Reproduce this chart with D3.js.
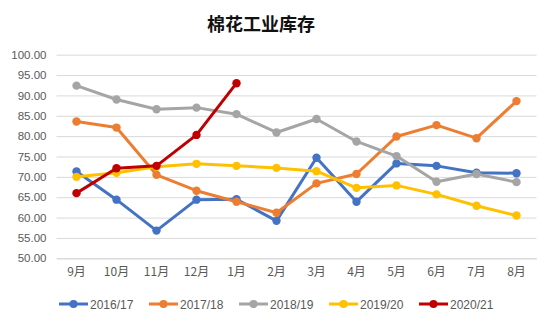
<!DOCTYPE html>
<html><head><meta charset="utf-8">
<script src="https://cdn.jsdelivr.net/npm/d3@7"></script>
<style>
body{margin:0;background:#fff;}
svg{display:block;font-family:"Open Sans","Noto Sans CJK SC",sans-serif;}
</style></head>
<body><svg id="c" width="550" height="325"></svg>
<script>
const categories = ["9月","10月","11月","12月","1月","2月","3月","4月","5月","6月","7月","8月"];
const seriesNames = ["2016/17","2017/18","2018/19","2019/20","2020/21"];
const s2016 = [71.3,64.4,56.8,64.4,64.5,59.2,74.7,63.9,73.3,72.7,71.0,70.9];
const s2017 = [83.6,82.1,70.5,66.6,63.9,61.2,68.4,70.7,79.9,82.7,79.5,88.6];
const s2018 = [92.4,89.0,86.6,87.0,85.4,80.9,84.2,78.7,75.1,68.8,70.7,68.7];
const s2019 = [70.0,71.0,72.5,73.2,72.7,72.2,71.4,67.3,67.9,65.7,62.9,60.5];
const s2020 = [66.0,72.1,72.7,80.3,93.0];
const yTicks = [50,55,60,65,70,75,80,85,90,95,100];
const colors = ["#4472C4","#ED7D31","#A5A5A5","#FFC000","#C00000"];
const allSeries = [s2016,s2017,s2018,s2019,s2020];

const svg = d3.select("#c");
const x = d3.scaleBand().domain(categories).range([56.5,536.5]);
const y = d3.scaleLinear().domain([50,100]).range([258.3,54.7]);

svg.append("text").attr("x",261).attr("y",31).attr("text-anchor","middle")
  .attr("font-family","'Noto Sans CJK SC',sans-serif").attr("font-size",18).attr("font-weight","bold")
  .attr("fill","#111").text("棉花工业库存");

const yAxis = d3.axisLeft(y).tickValues(yTicks).tickFormat(d3.format(".2f")).tickSize(-480).tickPadding(10);
const gy = svg.append("g").attr("transform","translate(56.5,0)").call(yAxis);
gy.select(".domain").remove();
gy.selectAll(".tick line").attr("stroke","#d9d9d9").attr("stroke-width",1);
gy.selectAll(".tick text").attr("fill","#595959").attr("font-size",11.5).attr("font-family","'Liberation Sans','Noto Sans CJK SC',sans-serif");

const xAxis = d3.axisBottom(x).tickSize(0).tickPadding(9);
const gx = svg.append("g").attr("transform","translate(0,258.3)").call(xAxis);
gx.select(".domain").attr("stroke","#d9d9d9");
gx.selectAll(".tick text").attr("fill","#595959").attr("font-size",12).attr("font-family","'Noto Sans CJK SC',sans-serif");

const line = d3.line().x((d,i)=>x(categories[i])+x.bandwidth()/2).y(d=>y(d));
allSeries.forEach((s,k)=>{
  const g = svg.append("g");
  g.append("path").datum(s).attr("d",line).attr("fill","none").attr("stroke",colors[k])
    .attr("stroke-width",3).attr("stroke-linejoin","round").attr("stroke-linecap","round");
  g.selectAll("circle").data(s).join("circle")
    .attr("cx",(d,i)=>x(categories[i])+x.bandwidth()/2).attr("cy",d=>y(d)).attr("r",4.2).attr("fill",colors[k]);
});

const lg = svg.append("g");
seriesNames.forEach((n,k)=>{
  const x0 = 59 + k*90;
  lg.append("line").attr("x1",x0).attr("x2",x0+29).attr("y1",304).attr("y2",304)
    .attr("stroke",colors[k]).attr("stroke-width",3);
  lg.append("circle").attr("cx",x0+14.5).attr("cy",304).attr("r",4).attr("fill",colors[k]);
  lg.append("text").attr("x",x0+31).attr("y",308.5).attr("font-size",12).attr("fill","#595959")
    .attr("font-family","'Liberation Sans',sans-serif").text(n);
});
</script></body></html>
